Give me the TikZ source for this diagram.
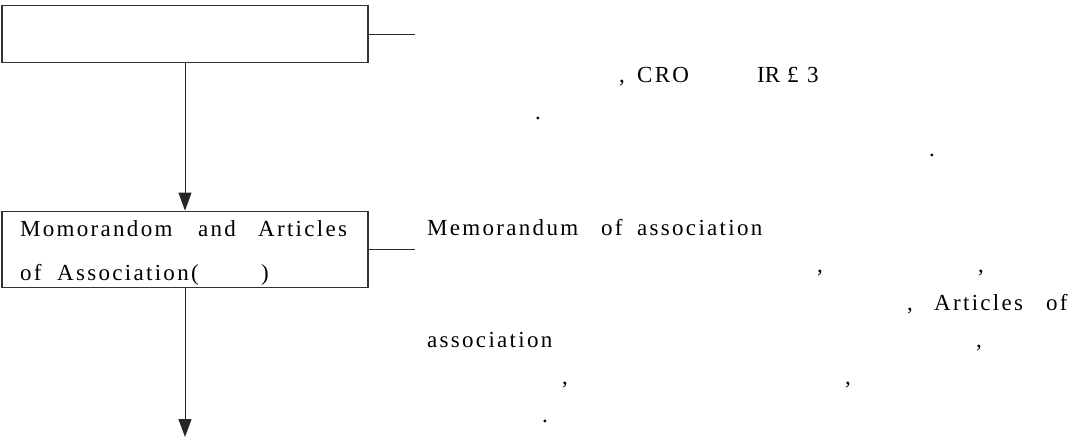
\documentclass[tikz,border=0pt]{standalone}
\usepackage{fontspec}
\setmainfont{Liberation Serif}
\newfontfamily\trk[LetterSpace=10]{Liberation Serif}
\usetikzlibrary{arrows.meta}
\begin{document}
\begin{tikzpicture}[x=1pt,y=-1pt,
  box/.style={draw=black!80, line width=1.1pt, minimum width=366pt, inner sep=0pt},
  conn/.style={draw=black!85, line width=1pt},
  arr/.style={conn, -{Triangle[length=18pt,width=13pt]}},
  txt/.style={anchor=base west, inner sep=0pt, font=\fontsize{23}{27}\selectfont},
  ttxt/.style={txt, font=\fontsize{23}{27}\selectfont\trk}]
\useasboundingbox (0,0) rectangle (1070,437);
% boxes and connectors
\node[box, minimum height=56.6pt] (b1) at (185,34) {};
\node[box, minimum height=76.7pt] (b2) at (185,249.5) {};
\coordinate (e1) at (415,34);
\coordinate (e2) at (415,249.5);
\coordinate (end) at (185,437);
\draw[conn] (b1.east) -- (e1);
\draw[conn] (b2.east) -- (e2);
\draw[arr] (b1.south) -- (b2.north);
\draw[arr] (b2.south) -- (end);
% text in box 2
\node[ttxt] (m1) at (20,236) {Momorandom};
\node[ttxt] (m2) at (198,236) {and};
\node[ttxt] (m3) at (258,236) {Articles};
\node[ttxt] (m4) at (20,280) {of};
\node[ttxt] (m5) at (57,280) {Association(};
\node[ttxt] (m6) at (261,280) {)};
% top right block
\node[txt] (c1) at (619,82) {,};
\node[ttxt] (c2) at (637,82) {CRO};
\node[txt] (c3) at (757,82) {IR};
\node[txt] (c4) at (787,82) {£};
\node[txt] (c5) at (807,82) {3};
\node[txt] (d1) at (535,119) {.};
\node[txt] (d2) at (929,156) {.};
% right block
\node[ttxt] (r1) at (427,235) {Memorandum};
\node[ttxt] (r2) at (601,235) {of};
\node[ttxt] (r3) at (637,235) {association};
\node[txt] (r4) at (817,272) {,};
\node[txt] (r5) at (978,272) {,};
\node[txt] (r6) at (907,310) {,};
\node[ttxt] (r7) at (934,310) {Articles};
\node[ttxt] (r8) at (1046,310) {of};
\node[ttxt] (r9) at (427,347) {association};
\node[txt] (r10) at (976,347) {,};
\node[txt] (r11) at (562,384) {,};
\node[txt] (r12) at (845,384) {,};
\node[txt] (r13) at (542,422) {.};
\end{tikzpicture}
\end{document}
